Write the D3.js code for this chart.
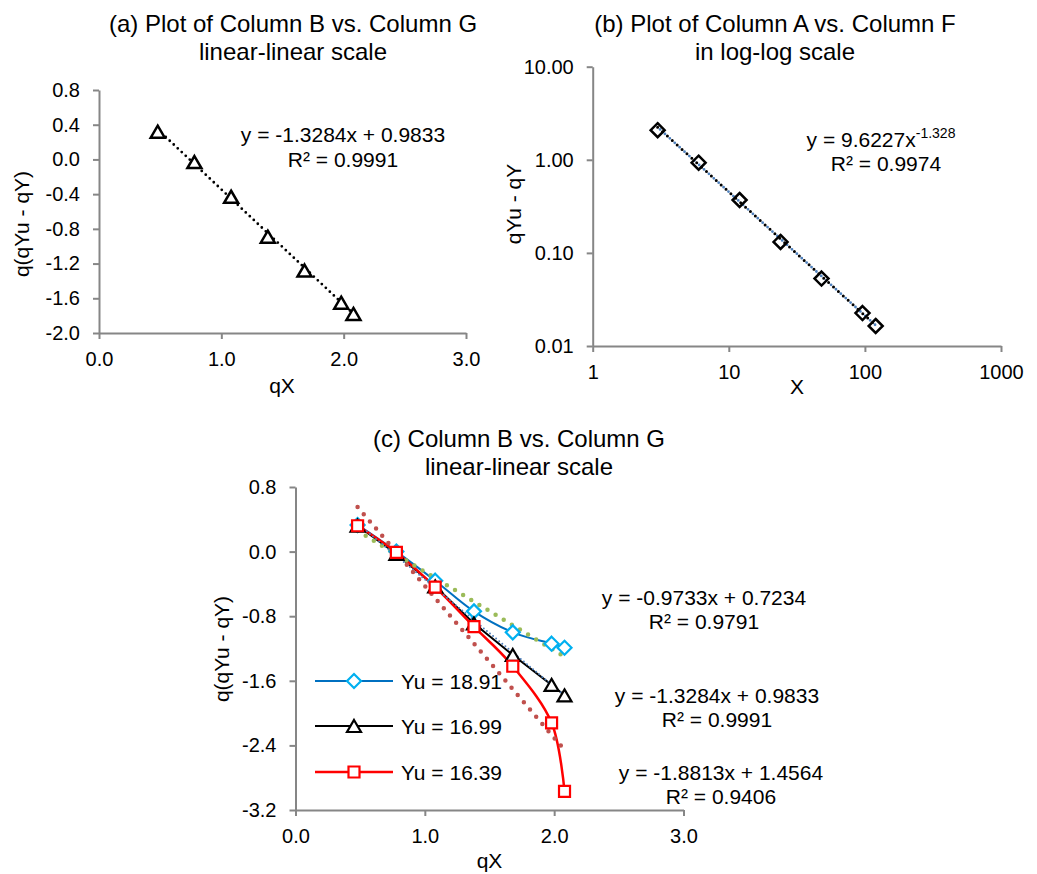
<!DOCTYPE html>
<html>
<head>
<meta charset="utf-8">
<script src="https://cdn.jsdelivr.net/npm/d3@7"></script>
<style>
  body { margin: 0; background: #fff; }
  text { font-family: "Liberation Sans", Arial, sans-serif; fill: #000; }
</style>
</head>
<body>
<svg id="chart" width="1037" height="874"></svg>
<script>
// データ
var qX = [0.48, 0.78, 1.08, 1.38, 1.68, 1.98, 2.08];        // Column B
var qYa = [0.32, -0.03, -0.43, -0.89, -1.28, -1.65, -1.78]; // Column G
var colA = [3, 6, 12, 24, 48, 96, 120];                      // Column A
var colF = [2.08, 0.93, 0.37, 0.131, 0.053, 0.0226, 0.0164]; // Column F

var yu1891 = [0.33, 0.0, -0.36, -0.74, -1.0, -1.14, -1.19];
var yu1699 = [0.32, -0.03, -0.43, -0.89, -1.28, -1.65, -1.78];
var yu1639 = [0.32, -0.01, -0.44, -0.93, -1.42, -2.12, -2.97];
var seriesNames = ["Yu = 18.91", "Yu = 16.99", "Yu = 16.39"];

// トレンドライン係数 (slope, intercept) / (coef, power)
var fitA = [-1.3284, 0.9833];
var fitB = [9.6227, -1.328];
var fitsC = [[-0.9733, 0.7234], [-1.3284, 0.9833], [-1.8813, 1.4564]];
var eqC = [["y = -0.9733x + 0.7234", "R² = 0.9791"],
           ["y = -1.3284x + 0.9833", "R² = 0.9991"],
           ["y = -1.8813x + 1.4564", "R² = 0.9406"]];

// tick
var ticksLinX = [0, 1, 2, 3];
var ticksAy = [-2.0, -1.6, -1.2, -0.8, -0.4, 0, 0.4, 0.8];
var ticksBx = [1, 10, 100, 1000];
var ticksBy = [0.01, 0.1, 1, 10];
var ticksCy = [-3.2, -2.4, -1.6, -0.8, 0, 0.8];

var svg = d3.select("#chart");
var axisColor = "#868686";
var f1 = function(d) { return d.toFixed(1); };

// Scaleの設定
var xA = d3.scaleLinear().domain([0, 3]).range([99, 466]);
var yA = d3.scaleLinear().domain([-2, 0.8]).range([333, 90]);
var xB = d3.scaleLog().domain([1, 1000]).range([592.7, 1001]);
var yB = d3.scaleLog().domain([0.01, 10]).range([346, 66.7]);
var xC = d3.scaleLinear().domain([0, 3]).range([295.5, 683.5]);
var yC = d3.scaleLinear().domain([-3.2, 0.8]).range([810, 487]);

function drawAxes(x, y, xt, yt, xf, yf) {
  var gx = svg.append("g")
      .attr("transform", "translate(0," + y.range()[0] + ")")
      .call(d3.axisBottom(x).tickValues(xt).tickFormat(xf)
        .tickSize(6).tickSizeOuter(0).tickPadding(13));
  var gy = svg.append("g")
      .attr("transform", "translate(" + x.range()[0] + ",0)")
      .call(d3.axisLeft(y).tickValues(yt).tickFormat(yf)
        .tickSize(6).tickSizeOuter(0).tickPadding(13));
  [gx, gy].forEach(function(g) {
    g.attr("font-size", 20).attr("font-family", null);
    g.selectAll("path, line").attr("stroke", axisColor).attr("stroke-width", 2);
    g.selectAll("text").attr("fill", "#000");
  });
}

function title(cx, y1, lines) {
  lines.forEach(function(t, i) {
    svg.append("text").attr("x", cx).attr("y", y1 + i * 27.5)
      .attr("text-anchor", "middle").attr("font-size", 24).text(t);
  });
}

function yLabel(x, cy, t) {
  svg.append("text").attr("transform", "translate(" + x + "," + cy + ") rotate(-90)")
    .attr("text-anchor", "middle").attr("font-size", 21).text(t);
}

function xLabel(cx, y, t) {
  svg.append("text").attr("x", cx).attr("y", y)
    .attr("text-anchor", "middle").attr("font-size", 21).text(t);
}

var triPath = "M0,-6L7,6L-7,6Z";
var diaPath = "M0,-7L7,0L0,7L-7,0Z";
var sqPath = "M-5.5,-5.5H5.5V5.5H-5.5Z";

// (a) ---------------------------------------------------------------
drawAxes(xA, yA, ticksLinX, ticksAy, f1, f1);
title(293, 32, ["(a) Plot of Column B vs. Column G", "linear-linear scale"]);
yLabel(29, 224, "q(qYu - qY)");
xLabel(282, 393, "qX");

var xr = d3.extent(qX);
svg.append("path")
  .attr("d", d3.line().x(function(d) { return xA(d); })
    .y(function(d) { return yA(fitA[0] * d + fitA[1]); })(xr))
  .attr("fill", "none").attr("stroke", "#000").attr("stroke-width", 2.8)
  .attr("stroke-linecap", "round").attr("stroke-dasharray", "0 5.5");

svg.selectAll(".ptA").data(qX).enter().append("path")
  .attr("transform", function(d, i) { return "translate(" + xA(d) + "," + yA(qYa[i]) + ")"; })
  .attr("d", triPath).attr("fill", "#fff").attr("stroke", "#000").attr("stroke-width", 2.5);

svg.append("text").attr("x", 343).attr("y", 142).attr("text-anchor", "middle")
  .attr("font-size", 21).text("y = -1.3284x + 0.9833");
svg.append("text").attr("x", 343).attr("y", 167).attr("text-anchor", "middle")
  .attr("font-size", 21).text("R² = 0.9991");

// (b) ---------------------------------------------------------------
drawAxes(xB, yB, ticksBx, ticksBy, d3.format("d"), function(d) { return d.toFixed(2); });
title(775, 32, ["(b) Plot of Column A vs. Column F", "in log-log scale"]);
yLabel(521, 204, "qYu - qY");
xLabel(797, 394, "X");

var powLine = d3.line().x(function(d) { return xB(d); })
  .y(function(d) { return yB(fitB[0] * Math.pow(d, fitB[1])); });
svg.append("path").attr("d", powLine(d3.extent(colA)))
  .attr("fill", "none").attr("stroke", "#4F81BD").attr("stroke-width", 2.8)
  .attr("stroke-linecap", "round").attr("stroke-dasharray", "0 6.6")
  .attr("stroke-dashoffset", -3.3);
svg.append("path").attr("d", powLine(d3.extent(colA)))
  .attr("fill", "none").attr("stroke", "#000").attr("stroke-width", 3)
  .attr("stroke-linecap", "round").attr("stroke-dasharray", "0 6.6");

svg.selectAll(".ptB").data(colA).enter().append("path")
  .attr("transform", function(d, i) { return "translate(" + xB(d) + "," + yB(colF[i]) + ")"; })
  .attr("d", diaPath).attr("fill", "none").attr("stroke", "#000").attr("stroke-width", 2.5);

var eqB = svg.append("text").attr("x", 881).attr("y", 147).attr("text-anchor", "middle")
  .attr("font-size", 21);
eqB.append("tspan").text("y = 9.6227x");
eqB.append("tspan").attr("dy", -9).attr("font-size", 14).text("-1.328");
svg.append("text").attr("x", 886).attr("y", 171).attr("text-anchor", "middle")
  .attr("font-size", 21).text("R² = 0.9974");

// (c) ---------------------------------------------------------------
drawAxes(xC, yC, ticksLinX, ticksCy, f1, f1);
title(519, 447, ["(c) Column B vs. Column G", "linear-linear scale"]);
yLabel(229, 649, "q(qYu - qY)");
xLabel(489.5, 868, "qX");

var smooth = d3.line().x(function(d, i) { return xC(qX[i]); })
  .y(function(d) { return yC(d); }).curve(d3.curveCatmullRom.alpha(0));
var straight = d3.line().x(function(d, i) { return xC(qX[i]); })
  .y(function(d) { return yC(d); });

var seriesC = [
  { vals: yu1891, line: "#0070C0", mark: "#00B0F0", shape: diaPath, gen: smooth, w: 2 },
  { vals: yu1699, line: "#000000", mark: "#000000", shape: triPath, gen: straight, w: 2 },
  { vals: yu1639, line: "#FF0000", mark: "#FF0000", shape: sqPath, gen: smooth, w: 2.5 }
];
var trendStyle = [
  { color: "#9BBB59", w: 4.5, dash: "0 9.5" },
  { color: "#4F81BD", w: 2, dash: "0 4" },
  { color: "#C0504D", w: 4.5, dash: "0 9.5" }
];

var linFit = function(c) {
  return d3.line().x(function(d) { return xC(d); })
    .y(function(d) { return yC(c[0] * d + c[1]); });
};

seriesC.forEach(function(s) {
  svg.append("path").attr("d", s.gen(s.vals))
    .attr("fill", "none").attr("stroke", s.line).attr("stroke-width", s.w);
});

fitsC.forEach(function(c, i) {
  svg.append("path").attr("d", linFit(c)(xr))
    .attr("fill", "none").attr("stroke", trendStyle[i].color)
    .attr("stroke-width", trendStyle[i].w).attr("stroke-linecap", "round")
    .attr("stroke-dasharray", trendStyle[i].dash);
});

seriesC.forEach(function(s) {
  svg.selectAll(null).data(s.vals).enter().append("path")
    .attr("transform", function(d, i) { return "translate(" + xC(qX[i]) + "," + yC(d) + ")"; })
    .attr("d", s.shape).attr("fill", "#fff").attr("stroke", s.mark).attr("stroke-width", 2.2);
});

// 凡例
var legY = [681, 726, 772];
seriesC.forEach(function(s, i) {
  var g = svg.append("g").attr("transform", "translate(0," + legY[i] + ")");
  g.append("line").attr("x1", 315).attr("x2", 393).attr("stroke", s.line).attr("stroke-width", s.w);
  g.append("path").attr("transform", "translate(354,0)").attr("d", s.shape)
    .attr("fill", "#fff").attr("stroke", s.mark).attr("stroke-width", 2.2);
  g.append("text").attr("x", 401).attr("dy", "0.36em").attr("font-size", 21).text(seriesNames[i]);
});

// 回帰式
var eqPos = [[704, 605], [717, 703], [721, 780]];
eqC.forEach(function(e, i) {
  svg.append("text").attr("x", eqPos[i][0]).attr("y", eqPos[i][1])
    .attr("text-anchor", "middle").attr("font-size", 21).text(e[0]);
  svg.append("text").attr("x", eqPos[i][0]).attr("y", eqPos[i][1] + 23.5)
    .attr("text-anchor", "middle").attr("font-size", 21).text(e[1]);
});
</script>
</body>
</html>
